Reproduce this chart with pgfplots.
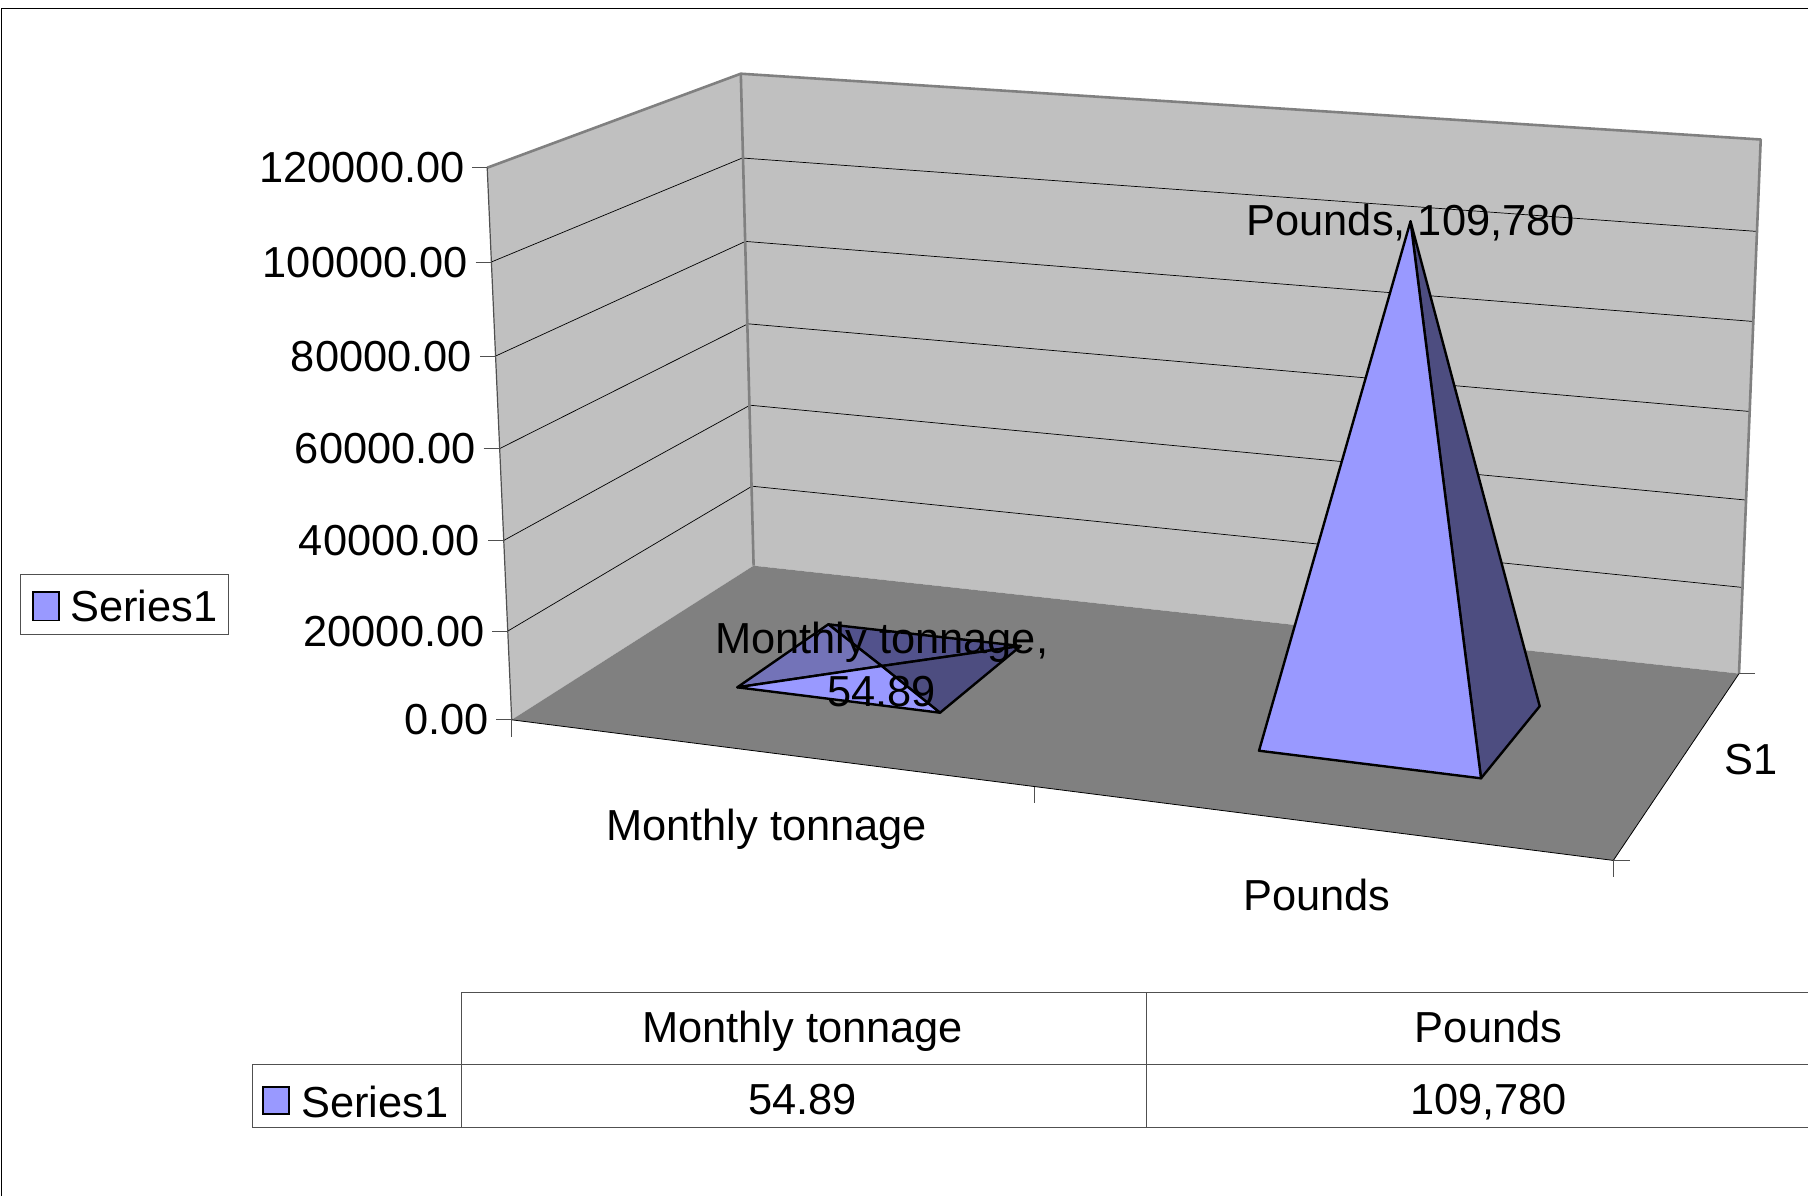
\documentclass[border=0pt]{standalone}
\usepackage{fontspec}
\setmainfont{Liberation Sans}
\usepackage{pgfplots}
\pgfplotsset{compat=1.18}
\definecolor{wall}{HTML}{C0C0C0}
\definecolor{floorc}{HTML}{808080}
\definecolor{front}{HTML}{9999FF}
\definecolor{dark}{HTML}{4D4D80}
\definecolor{midA}{HTML}{7373B8}
\definecolor{midB}{HTML}{52528C}
\definecolor{tl}{HTML}{505050}
\newcommand{\fs}{\fontsize{21.7}{25}\selectfont}
\begin{document}
\begin{tikzpicture}[every node/.style={inner sep=0pt, outer sep=0pt, text=black}]
\begin{axis}[
  scale only axis, width=904pt, height=598pt,
  xmin=0, xmax=1808, ymin=0, ymax=1196, y dir=reverse,
  hide axis, clip=true,
]
% page
\addplot[fill=white, draw=none] coordinates {(0,0)(1808,0)(1808,1196)(0,1196)} --cycle;
% frame
\addplot[black, line width=0.6pt] coordinates {(1.5,1196)(1.5,8.7)(1808,8.7)};
% walls
\addplot[fill=wall, draw=none] coordinates {(487.2,167.7)(740.8,73.7)(753.6,565.7)(511.7,719.8)} --cycle;
\addplot[fill=wall, draw=none] coordinates {(740.8,73.7)(1760.7,139.5)(1739,673.6)(753.6,565.7)} --cycle;
% floor
\addplot[fill=floorc, draw=none] coordinates {(511.7,719.8)(753.6,565.7)(1739,673.6)(1613.3,860.4)} --cycle;
% gridlines
\addplot[black, line width=0.35pt] coordinates {(490.8,262.2)(742.3,158)(1756.8,231.4)};
\addplot[black, line width=0.35pt] coordinates {(495,356.3)(745.4,241.4)(1752.5,321.4)};
\addplot[black, line width=0.35pt] coordinates {(499,448.9)(748,323.8)(1749,411.4)};
\addplot[black, line width=0.35pt] coordinates {(503.6,540.5)(750,405.2)(1745.6,500)};
\addplot[black, line width=0.35pt] coordinates {(507.7,631.1)(752,486.2)(1741.3,587.3)};
% wall edges
\addplot[floorc, line width=1.3pt, line join=round] coordinates {(487.2,167.7)(740.8,73.7)(1760.7,139.5)(1739,673.6)};
\addplot[floorc, line width=1.3pt] coordinates {(740.8,73.7)(753.6,565.7)};
\addplot[tl, line width=0.6pt] coordinates {(487.2,167.7)(511.7,719.8)};
% floor edges
\addplot[black, line width=0.4pt] coordinates {(511.7,719.8)(1613.3,860.4)(1739,673.6)};
% ticks
\addplot[tl, line width=0.5pt] coordinates {(472,167.7)(487.2,167.7)};
\addplot[tl, line width=0.5pt] coordinates {(475.5,262.2)(490.8,262.2)};
\addplot[tl, line width=0.5pt] coordinates {(480,356.3)(495,356.3)};
\addplot[tl, line width=0.5pt] coordinates {(483.7,448.9)(499,448.9)};
\addplot[tl, line width=0.5pt] coordinates {(488.3,540.5)(503.6,540.5)};
\addplot[tl, line width=0.5pt] coordinates {(492.3,631.1)(507.7,631.1)};
\addplot[tl, line width=0.5pt] coordinates {(496,719.8)(511.7,719.8)};
\addplot[tl, line width=0.5pt] coordinates {(511.7,719.8)(511.7,737)};
\addplot[tl, line width=0.5pt] coordinates {(1034.3,787)(1034.3,802.7)};
\addplot[tl, line width=0.5pt] coordinates {(1613.3,860.4)(1613.3,877)};
\addplot[tl, line width=0.5pt] coordinates {(1613.3,860.4)(1629.6,860.4)};
\addplot[tl, line width=0.5pt] coordinates {(1739,673.6)(1754.5,673.6)};
% small pyramid
\addplot[fill=midB, draw=black, line width=1.2pt, line join=round] coordinates {(828.3,624.3)(1020.7,646)(881.7,666)} --cycle;
\addplot[fill=midA, draw=black, line width=1.2pt, line join=round] coordinates {(737.3,687.3)(828.3,624.3)(881.7,666)} --cycle;
\addplot[fill=dark, draw=black, line width=1.2pt, line join=round] coordinates {(940,712.7)(1020.7,646)(881.7,666)} --cycle;
\addplot[fill=front, draw=black, line width=1.2pt, line join=round] coordinates {(737.3,687.3)(940,712.7)(881.7,666)} --cycle;
% big pyramid
\addplot[fill=dark, draw=black, line width=1.2pt, line join=round] coordinates {(1481,778.3)(1539.7,706.2)(1410.5,221.3)} --cycle;
\addplot[fill=front, draw=black, line width=1.2pt, line join=round] coordinates {(1259,750.7)(1481,778.3)(1410.5,221.3)} --cycle;
% y tick labels
\node[anchor=east] at (axis cs:464.5,167.7) {\fs 120000.00};
\node[anchor=east] at (axis cs:468,262.2) {\fs 100000.00};
\node[anchor=east] at (axis cs:472,356.3) {\fs 80000.00};
\node[anchor=east] at (axis cs:476,448.9) {\fs 60000.00};
\node[anchor=east] at (axis cs:480,540.5) {\fs 40000.00};
\node[anchor=east] at (axis cs:484.5,631.1) {\fs 20000.00};
\node[anchor=east] at (axis cs:489,719.8) {\fs 0.00};
% category labels
\node[anchor=base] at (axis cs:766.7,840.7) {\fs Monthly tonnage};
\node[anchor=base] at (axis cs:1316.7,910) {\fs Pounds};
\node[anchor=center] at (axis cs:1750.6,760) {\fs S1};
% data labels
\node[anchor=base] at (axis cs:881.7,653.3) {\fs Monthly tonnage,};
\node[anchor=base] at (axis cs:881.7,706.7) {\fs 54.89};
\node[anchor=base] at (axis cs:1410.7,235) {\fs Pounds, 109,780};
% legend
\addplot[fill=white, draw=tl, line width=0.5pt] coordinates {(20.4,574.9)(228.6,574.9)(228.6,634)(20.4,634)} --cycle;
\addplot[fill=front, draw=black, line width=0.9pt] coordinates {(33,592.3)(59,592.3)(59,620.4)(33,620.4)} --cycle;
\node[anchor=west] at (axis cs:70.4,606) {\fs Series1};
% data table
\addplot[tl, line width=0.5pt] coordinates {(461.2,992)(1808,992)};
\addplot[tl, line width=0.5pt] coordinates {(252.5,1064)(1808,1064)};
\addplot[tl, line width=0.5pt] coordinates {(252.5,1127.6)(1808,1127.6)};
\addplot[tl, line width=0.5pt] coordinates {(252.5,1064)(252.5,1127.6)};
\addplot[tl, line width=0.5pt] coordinates {(461.2,992)(461.2,1127.6)};
\addplot[tl, line width=0.5pt] coordinates {(1146,992)(1146,1127.6)};
\node[anchor=base] at (axis cs:802.5,1042) {\fs Monthly tonnage};
\node[anchor=base] at (axis cs:1488.5,1042) {\fs Pounds};
\node[anchor=base] at (axis cs:802.5,1114) {\fs 54.89};
\node[anchor=base] at (axis cs:1488.5,1114) {\fs 109,780};
\addplot[fill=front, draw=black, line width=0.9pt] coordinates {(263,1087)(289,1087)(289,1114)(263,1114)} --cycle;
\node[anchor=west] at (axis cs:301.4,1102) {\fs Series1};
\end{axis}
\end{tikzpicture}
\end{document}
